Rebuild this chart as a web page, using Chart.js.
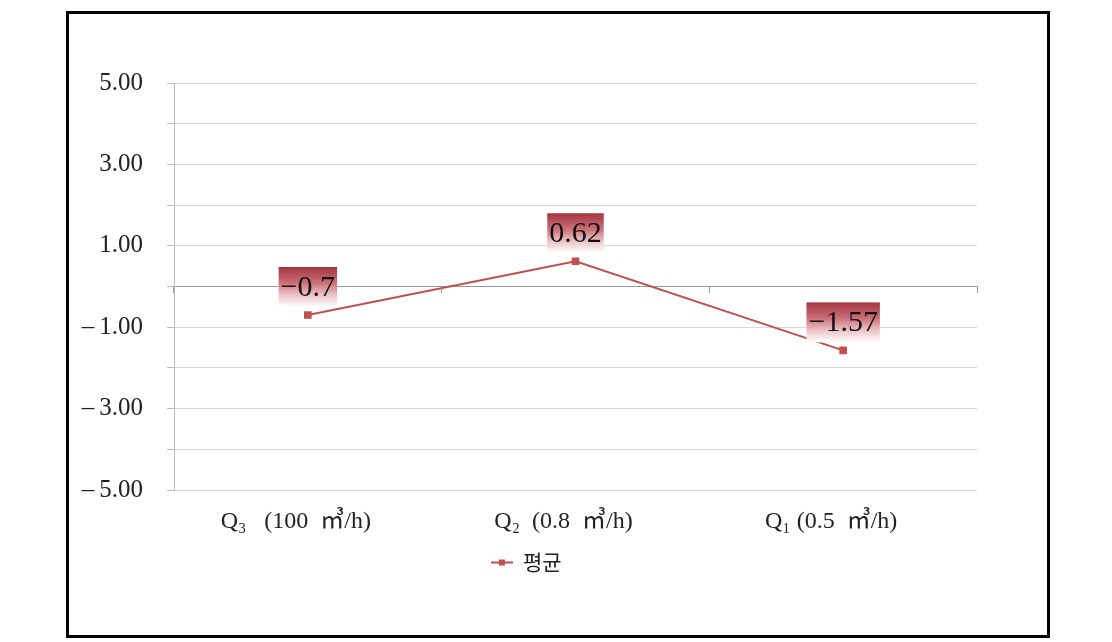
<!DOCTYPE html>
<html>
<head>
<meta charset="utf-8">
<script src="https://cdn.jsdelivr.net/npm/chart.js@4.4.1/dist/chart.umd.min.js"></script>
<style>
  html, body { margin: 0; padding: 0; background: #fff; }
  #wrap { position: absolute; left: 0; top: 0; width: 1112px; height: 642px; }
  #frame { position: absolute; left: 66px; top: 11px; width: 978px; height: 621px; border: 3px solid #000; pointer-events: none; }
</style>
</head>
<body>
<div id="wrap">
  <canvas id="chart" width="1112" height="642"></canvas>
  <div id="frame"></div>
</div>
<script>
// ================= DATA =================
const categories = ["Q\u2083   (100  \u33A5/h)    ", "Q\u2082  (0.8  \u33A5/h)    ", "Q\u2081 (0.5  \u33A5/h)    "];
const avgValues = [-0.7, 0.62, -1.57];
const seriesName = "평균";
const yMin = -5;
const yMax = 5;

const RED = "#c0504d";
const SERIF = "'Liberation Serif', 'DejaVu Serif', 'Noto Sans CJK KR', serif";

// legend marker: line with a small square
function legendMarker() {
  const c = document.createElement("canvas");
  c.width = 22; c.height = 10;
  const g = c.getContext("2d");
  g.strokeStyle = RED; g.lineWidth = 2;
  g.beginPath(); g.moveTo(0, 5); g.lineTo(22, 5); g.stroke();
  g.fillStyle = RED; g.fillRect(8, 2, 6, 6);
  return c;
}

// y tick text: only odd values, wide minus sign
function yTickText(v) {
  if (Math.abs(v) % 2 !== 1) return "";
  const s = Math.abs(v).toFixed(2);
  return v < 0 ? "\u2013\u2009" + s : s;
}

// ================= DATA LABELS =================
const boxLabels = {
  id: "boxLabels",
  afterDatasetsDraw(chart) {
    const ctx = chart.ctx;
    const meta = chart.getDatasetMeta(0);
    ctx.save();
    ctx.font = "30px " + SERIF;
    meta.data.forEach((pt, i) => {
      const v = avgValues[i];
      const txt = String(v).replace("-", "\u2212");
      const w = ctx.measureText(txt).width + 4;
      const h = 40;
      const x0 = pt.x - w / 2;
      const y1 = pt.y - 8;
      const y0 = y1 - h;
      const grad = ctx.createLinearGradient(0, y0, 0, y1);
      grad.addColorStop(0, "#a3343e");
      grad.addColorStop(0.4, "#cc7078");
      grad.addColorStop(0.7, "#ecc4c7");
      grad.addColorStop(1, "rgba(255,255,255,1)");
      ctx.fillStyle = grad;
      ctx.fillRect(x0, y0, w, h);
      ctx.fillStyle = "#111";
      ctx.textAlign = "center";
      ctx.textBaseline = "middle";
      ctx.fillText(txt, pt.x, y0 + 21);
    });
    ctx.restore();
  }
};

// ================= CHART =================
new Chart(document.getElementById("chart"), {
  type: "line",
  data: {
    labels: categories,
    datasets: [{
      label: seriesName,
      data: avgValues,
      borderColor: RED,
      backgroundColor: RED,
      borderWidth: 2,
      pointStyle: "rect",
      pointRadius: 4,
      pointBackgroundColor: RED,
      pointBorderColor: RED,
      tension: 0
    }]
  },
  options: {
    responsive: false,
    animation: false,
    layout: { padding: { left: 76, right: 135, top: 83, bottom: 59 } },
    scales: {
      x: {
        offset: true,
        afterFit: s => { s.height = 50; },
        grid: { display: false },
        border: { display: false },
        ticks: {
          color: "#222",
          padding: 9,
          maxRotation: 0,
          font: { family: SERIF, size: 24 }
        }
      },
      x2: {
        type: "category",
        labels: categories,
        position: { y: 0 },
        offset: true,
        grid: { offset: true, drawOnChartArea: false, drawTicks: true, tickLength: 6, color: "#999" },
        border: { display: true, color: "#999", width: 1 },
        ticks: { display: false }
      },
      y: {
        min: yMin,
        max: yMax,
        afterFit: s => { s.width = 98; },
        grid: {
          color: c => c.tick && c.tick.value === 0 ? "rgba(0,0,0,0)" : "#d9d9d9",
          tickColor: "#bbb",
          tickLength: 7,
          drawTicks: true
        },
        border: { display: true, color: "#bbb" },
        ticks: {
          stepSize: 1,
          padding: 24,
          color: "#222",
          font: { family: SERIF, size: 25 },
          callback: v => yTickText(v)
        }
      }
    },
    plugins: {
      legend: {
        position: "bottom",
        labels: {
          usePointStyle: true,
          pointStyle: legendMarker(),
          color: "#222",
          padding: 12,
          font: { family: "'Noto Sans CJK KR', sans-serif", size: 21 }
        }
      },
      tooltip: { enabled: false }
    }
  },
  plugins: [boxLabels]
});
</script>
</body>
</html>
